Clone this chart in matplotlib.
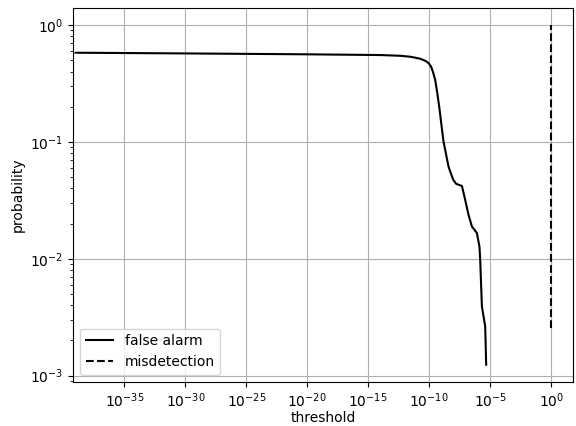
import numpy as np
import matplotlib
matplotlib.use("Agg")
import matplotlib.pyplot as plt
from matplotlib.ticker import NullLocator

# false alarm rate against detection threshold (log10 of threshold)
fa_log_threshold = [-39.0, -30.0, -20.0, -14.0, -12.38, -11.56, -11.15, -10.74,
                    -10.33, -10.08, -9.84, -9.67, -9.51, -9.34, -9.18, -8.98,
                    -8.83, -8.69, -8.42, -8.28, -8.03, -7.79, -7.32, -7.05,
                    -6.78, -6.50, -6.09, -5.88, -5.82, -5.68, -5.41, -5.33]
fa_prob = [0.58, 0.572, 0.562, 0.554, 0.546, 0.536, 0.526, 0.515,
           0.495, 0.476, 0.44, 0.39, 0.339, 0.262, 0.2, 0.135,
           0.1007, 0.0855, 0.0616, 0.0558, 0.0474, 0.0438, 0.042, 0.0319,
           0.0238, 0.0189, 0.0166, 0.0127, 0.0098, 0.0039, 0.00264, 0.00124]

# misdetection rate
md_threshold = [1.0, 1.0]
md_prob = [0.00255, 1.0]

# decades that get a labelled tick on the threshold axis
x_tick_exponents = [-35, -30, -25, -20, -15, -10, -5, 0]


def main():
    fig = plt.figure(figsize=(5.76, 4.26), dpi=100)
    ax = fig.add_axes([0.127, 0.104, 0.868, 0.877])
    ax.plot(10.0 ** np.array(fa_log_threshold), fa_prob, 'k-', label='false alarm')
    ax.plot(md_threshold, md_prob, 'k--', label='misdetection')
    ax.set_xscale('log')
    ax.set_yscale('log')
    ax.set_xlim(10**-39.2, 10**1.8)
    ax.set_xticks(10.0 ** np.array(x_tick_exponents, dtype=float))
    ax.xaxis.set_minor_locator(NullLocator())
    ax.set_xlabel('threshold', labelpad=0.8)
    ax.set_ylabel('probability')
    ax.grid(True)
    ax.legend(loc='lower left')
    fig.savefig('out.png')


if __name__ == '__main__':
    main()
